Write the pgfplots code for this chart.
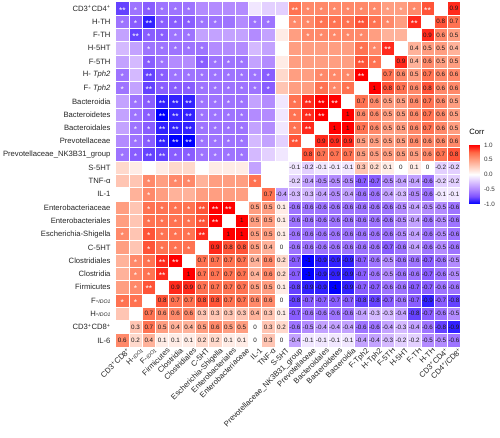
\documentclass[border=0pt]{standalone}
\usepackage{pgfplots}
\pgfplotsset{compat=1.18}
\usepackage{pgfplotstable}
\usepackage{fontspec}
\setmainfont{Liberation Sans}
\newcommand\lab{\fontsize{7.7}{9}\selectfont}
\newcommand\ido{\textit{\fontsize{5.2}{6}\selectfont IDO1}}
\newcommand\p{\textsuperscript{+}}
\pgfplotsset{colormap={corrmap}{rgb255=(0,0,255) rgb255=(126,82,255) rgb255=(179,139,255) rgb255=(220,196,255) rgb255=(255,255,255) rgb255=(255,207,191) rgb255=(255,158,129) rgb255=(255,104,70) rgb255=(255,0,0)}}

% a b r : correlation between variable a and variable b (a<b)
\pgfplotstableread{
a b r
0 1 0.6
0 2 0.2
0 3 0.4
0 4 0.1
0 5 0.1
0 6 0.1
0 7 0.2
0 8 0.2
0 9 0.1
0 10 0.1
0 11 0
0 12 0.3
0 13 0
0 14 -0.4
0 15 -0.1
0 16 -0.1
0 17 -0.1
0 18 -0.1
0 19 -0.4
0 20 -0.4
0 21 -0.3
0 22 -0.2
0 23 -0.2
0 24 -0.5
0 25 -0.5
0 26 -0.6
1 2 0.3
1 3 0.7
1 4 0.5
1 5 0.4
1 6 0.4
1 7 0.5
1 8 0.6
1 9 0.5
1 10 0.5
1 11 0
1 12 0.3
1 13 0.2
1 14 -0.6
1 15 -0.5
1 16 -0.4
1 17 -0.4
1 18 -0.4
1 19 -0.6
1 20 -0.6
1 21 -0.4
1 22 -0.3
1 23 -0.4
1 24 -0.6
1 25 -0.8
1 26 -0.9
2 3 0.7
2 4 0.6
2 5 0.6
2 6 0.6
2 7 0.3
2 8 0.3
2 9 0.3
2 10 0.3
2 11 0.4
2 12 0.3
2 13 0.1
2 14 -0.7
2 15 -0.6
2 16 -0.6
2 17 -0.6
2 18 -0.6
2 19 -0.4
2 20 -0.3
2 21 -0.3
2 22 -0.4
2 23 -0.8
2 24 -0.7
2 25 -0.6
2 26 -0.5
3 4 0.8
3 5 0.7
3 6 0.7
3 7 0.8
3 8 0.8
3 9 0.7
3 10 0.7
3 11 0.6
3 12 0.6
3 13 0
3 14 -0.8
3 15 -0.7
3 16 -0.7
3 17 -0.7
3 18 -0.7
3 19 -0.8
3 20 -0.8
3 21 -0.7
3 22 -0.6
3 23 -0.7
3 24 -0.9
3 25 -0.7
3 26 -0.8
4 5 0.9
4 6 0.9
4 7 0.7
4 8 0.7
4 9 0.7
4 10 0.7
4 11 0.5
4 12 0.5
4 13 0.1
4 14 -0.8
4 15 -0.9
4 16 -0.9
4 17 -1
4 18 -0.9
4 19 -0.7
4 20 -0.7
4 21 -0.6
4 22 -0.6
4 23 -0.7
4 24 -0.7
4 25 -0.6
4 26 -0.6
5 6 1
5 7 0.7
5 8 0.7
5 9 0.7
5 10 0.7
5 11 0.4
5 12 0.6
5 13 0.2
5 14 -0.7
5 15 -1
5 16 -0.9
5 17 -0.9
5 18 -0.9
5 19 -0.7
5 20 -0.6
5 21 -0.5
5 22 -0.6
5 23 -0.6
5 24 -0.7
5 25 -0.6
5 26 -0.5
6 7 0.7
6 8 0.7
6 9 0.7
6 10 0.7
6 11 0.4
6 12 0.6
6 13 0.2
6 14 -0.7
6 15 -1
6 16 -0.9
6 17 -0.9
6 18 -0.9
6 19 -0.7
6 20 -0.6
6 21 -0.5
6 22 -0.6
6 23 -0.6
6 24 -0.7
6 25 -0.6
6 26 -0.5
7 8 0.9
7 9 0.8
7 10 0.8
7 11 0.5
7 12 0.4
7 13 0
7 14 -0.6
7 15 -0.6
7 16 -0.6
7 17 -0.6
7 18 -0.6
7 19 -0.6
7 20 -0.6
7 21 -0.7
7 22 -0.6
7 23 -0.4
7 24 -0.6
7 25 -0.5
7 26 -0.6
8 9 1
8 10 1
8 11 0.5
8 12 0.5
8 13 0.1
8 14 -0.6
8 15 -0.6
8 16 -0.6
8 17 -0.6
8 18 -0.6
8 19 -0.6
8 20 -0.6
8 21 -0.6
8 22 -0.5
8 23 -0.4
8 24 -0.6
8 25 -0.5
8 26 -0.6
9 10 1
9 11 0.5
9 12 0.5
9 13 0.1
9 14 -0.6
9 15 -0.6
9 16 -0.6
9 17 -0.6
9 18 -0.6
9 19 -0.6
9 20 -0.6
9 21 -0.6
9 22 -0.5
9 23 -0.4
9 24 -0.6
9 25 -0.5
9 26 -0.6
10 11 0.5
10 12 0.5
10 13 0.1
10 14 -0.6
10 15 -0.6
10 16 -0.6
10 17 -0.6
10 18 -0.6
10 19 -0.6
10 20 -0.6
10 21 -0.6
10 22 -0.5
10 23 -0.4
10 24 -0.5
10 25 -0.5
10 26 -0.6
11 12 0.7
11 13 -0.4
11 14 -0.3
11 15 -0.3
11 16 -0.4
11 17 -0.5
11 18 -0.4
11 19 -0.6
11 20 -0.6
11 21 -0.4
11 22 -0.3
11 23 -0.5
11 24 -0.6
11 25 -0.1
11 26 -0.1
12 14 -0.2
12 15 -0.4
12 16 -0.5
12 17 -0.5
12 18 -0.5
12 19 -0.7
12 20 -0.7
12 21 -0.5
12 22 -0.4
12 23 -0.4
12 24 -0.6
12 25 -0.2
12 26 -0.2
13 14 -0.1
13 15 -0.2
13 16 -0.1
13 17 -0.1
13 18 -0.1
13 19 0.3
13 20 0.2
13 21 0.1
13 22 0
13 23 0.1
13 24 0
13 25 -0.2
13 26 -0.2
14 15 0.8
14 16 0.7
14 17 0.7
14 18 0.7
14 19 0.5
14 20 0.5
14 21 0.5
14 22 0.5
14 23 0.5
14 24 0.6
14 25 0.7
14 26 0.8
15 16 0.9
15 17 0.9
15 18 0.9
15 19 0.5
15 20 0.5
15 21 0.5
15 22 0.5
15 23 0.6
15 24 0.6
15 25 0.6
15 26 0.6
16 17 1
16 18 1
16 19 0.7
16 20 0.6
16 21 0.5
16 22 0.5
16 23 0.6
16 24 0.7
16 25 0.6
16 26 0.5
17 18 1
17 19 0.6
17 20 0.6
17 21 0.5
17 22 0.5
17 23 0.6
17 24 0.7
17 25 0.6
17 26 0.5
18 19 0.7
18 20 0.6
18 21 0.5
18 22 0.5
18 23 0.6
18 24 0.7
18 25 0.6
18 26 0.5
19 20 1
19 21 0.8
19 22 0.7
19 23 0.6
19 24 0.8
19 25 0.6
19 26 0.6
20 21 0.7
20 22 0.6
20 23 0.5
20 24 0.7
20 25 0.6
20 26 0.6
21 22 0.9
21 23 0.4
21 24 0.6
21 25 0.5
21 26 0.5
22 23 0.4
22 24 0.5
22 25 0.5
22 26 0.4
23 24 0.9
23 25 0.6
23 26 0.5
24 25 0.8
24 26 0.7
25 26 0.9
}\corrtab

% significance marks shown in the upper-left half
\pgfplotstableread{
a b s
1 3 *
1 8 *
1 14 *
1 19 *
1 20 *
1 24 *
1 25 **
2 3 *
2 4 *
2 5 *
2 6 *
2 14 *
2 15 *
2 16 *
2 17 *
2 18 *
2 23 **
2 24 *
2 25 *
3 4 **
3 5 *
3 6 *
3 7 *
3 8 *
3 9 *
3 10 *
3 11 *
3 12 *
3 14 **
3 15 *
3 16 *
3 17 *
3 18 *
3 19 **
3 20 **
3 21 *
3 22 *
3 23 *
3 24 **
3 25 *
4 5 **
4 6 **
4 7 *
4 8 *
4 9 *
4 10 *
4 14 **
4 15 **
4 16 **
4 17 **
4 18 **
4 19 *
4 20 *
4 21 *
4 22 *
4 23 *
4 24 *
4 25 *
5 6 **
5 7 *
5 8 *
5 9 *
5 10 *
5 12 *
5 14 *
5 15 **
5 16 **
5 17 **
5 18 **
5 19 *
5 20 *
5 22 *
5 23 *
5 24 *
5 25 *
6 7 *
6 8 *
6 9 *
6 10 *
6 12 *
6 14 *
6 15 **
6 16 **
6 17 **
6 18 **
6 19 *
6 20 *
6 22 *
6 23 *
6 24 *
6 25 *
7 8 **
7 9 **
7 10 **
7 14 *
7 15 *
7 16 *
7 17 *
7 18 *
7 19 *
7 20 *
7 21 *
7 22 *
7 24 *
8 9 **
8 10 **
8 14 *
8 15 *
8 16 *
8 17 *
8 18 *
8 19 *
8 20 *
8 21 *
8 24 *
9 10 **
9 14 *
9 15 *
9 16 *
9 17 *
9 18 *
9 19 *
9 20 *
9 21 *
10 14 *
10 15 *
10 16 *
10 17 *
10 18 *
10 19 *
10 20 *
10 21 *
11 12 *
11 19 *
11 20 *
11 24 *
12 19 *
12 20 *
12 24 *
14 15 **
14 16 *
14 17 *
14 18 *
14 24 *
14 25 **
15 16 **
15 17 **
15 18 **
15 23 *
15 24 *
15 25 *
16 17 **
16 18 **
16 19 *
16 20 *
16 23 *
16 24 *
16 25 *
17 18 **
17 19 *
17 20 *
17 23 *
17 24 *
17 25 *
18 19 *
18 20 *
18 23 *
18 24 *
18 25 *
19 20 **
19 21 **
19 22 *
19 23 *
19 24 **
19 25 *
20 21 *
20 22 *
20 24 *
20 25 *
21 22 **
21 24 *
21 25 *
22 25 *
23 24 **
23 25 *
24 25 **
}\startab

\begin{document}
\begin{tikzpicture}
\useasboundingbox (-115.7bp,-91bp) rectangle (384.3bp,347bp);
\begin{axis}[
  at={(0bp,0bp)}, anchor=south west,
  scale only axis, width=345bp, height=345.3bp,
  xmin=0.5, xmax=26.5, ymin=0.5, ymax=26.5,
  axis line style={draw=none},
  major tick length=0pt, tick style={draw=none},
  xtick={1,...,26}, ytick={1,...,26},
  xticklabels={CD3\p CD8\p, H-\ido, F-\ido, Firmicutes, Clostridia, Clostridiales, C-5HT, Escherichia-Shigella, Enterobacteriales, Enterobacteriaceae, IL-1, TNF-α, S-5HT, Prevotellaceae\_NK3B31\_group, Prevotellaceae, Bacteroidales, Bacteroidetes, Bacteroidia, F-Tph2, H-Tph2, F-5TH, H-5HT, F-TH, H-TH, CD3\p CD4\p, CD4\p/CD8\p},
  yticklabels={IL-6, CD3\p CD8\p, H-\ido, F-\ido, Firmicutes, Clostridia, Clostridiales, C-5HT, Escherichia-Shigella, Enterobacteriales, Enterobacteriaceae, IL-1, TNF-α, S-5HT, Prevotellaceae\_NK3B31\_group, Prevotellaceae, Bacteroidales, Bacteroidetes, Bacteroidia, F- \textit{Tph2}, H- \textit{Tph2}, F-5TH, H-5HT, F-TH, H-TH, CD3\p CD4\p},
  tick label style={font=\lab, text=black!85},
  xticklabel style={rotate=45, anchor=north east, inner sep=0pt, xshift=3bp, yshift=-3bp},
  yticklabel style={anchor=east, inner sep=0pt, xshift=-5bp},
  colormap name=corrmap, point meta min=-1, point meta max=1,
  colorbar,
  colorbar style={
    at={([xshift=12bp,yshift=-6.2bp]parent axis.east)}, anchor=west,
    width=10.6bp, height=59bp,
    ytick={-1,-0.5,0,0.5,1},
    yticklabels={-1.0,-0.5,0.0,0.5,1.0},
    yticklabel style={font=\fontsize{6.3}{7}\selectfont, text=black!80, inner sep=0pt, anchor=west, xshift=4bp},
    axis line style={draw=none}, major tick length=0pt, tick style={draw=none},
    title={Corr},
    title style={at={(0,1)}, anchor=south west, inner sep=0pt, yshift=4bp, font=\lab},
  },
]
% lower-right half
\addplot[scatter, only marks, mark=square*, mark size=6.635bp, point meta=explicit,
  scatter/use mapped color={draw=white, fill=mapped color, line width=0.6bp}]
  table[x=b, y expr=\thisrow{a}+1, meta=r] {\corrtab};
% upper-left half (mirror)
\addplot[scatter, only marks, mark=square*, mark size=6.635bp, point meta=explicit,
  restrict x to domain=0.9:26.1, restrict y to domain=0.9:26.1,
  scatter/use mapped color={draw=white, fill=mapped color, line width=0.6bp}]
  table[x=a, y expr=\thisrow{b}+1, meta=r] {\corrtab};
% numbers
\addplot[draw=none, mark=none, point meta=explicit symbolic,
  nodes near coords, nodes near coords align={center},
  every node near coord/.append style={font=\fontsize{6.3}{7}\selectfont, text=black!90, inner sep=0pt}]
  table[x=b, y expr=\thisrow{a}+1, meta=r] {\corrtab};
% stars
\addplot[draw=none, mark=none, point meta=explicit symbolic,
  nodes near coords, nodes near coords align={center},
  every node near coord/.append style={font=\fontsize{8.5}{9}\selectfont, text=white, inner sep=0pt, yshift=-1.8bp}]
  table[x=a, y expr=\thisrow{b}+1, meta=s] {\startab};
\end{axis}
\end{tikzpicture}
\end{document}
